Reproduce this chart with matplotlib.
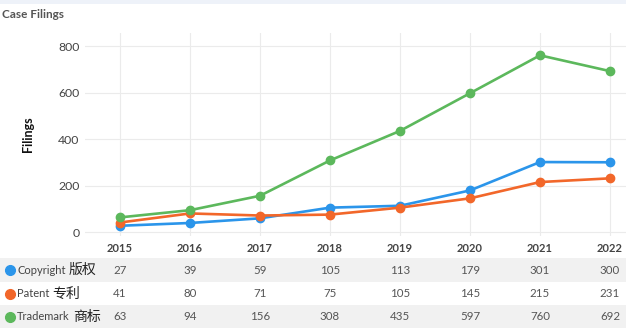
"""
Case Filings: Liniendiagramm mit Datentabelle darunter.
"""
import matplotlib.pyplot as plt
from matplotlib.patches import Rectangle
from matplotlib.transforms import blended_transform_factory

# Daten
YEARS = ["2015", "2016", "2017", "2018", "2019", "2020", "2021", "2022"]
COPYRIGHT = [27, 39, 59, 105, 113, 179, 301, 300]
PATENT = [41, 80, 71, 75, 105, 145, 215, 231]
TRADEMARK = [63, 94, 156, 308, 435, 597, 760, 692]
SERIES_EN = ["Copyright", "Patent", "Trademark"]
SERIES_ZH = ["版权", "专利", "商标"]
Y_TICKS = [0, 200, 400, 600, 800]

COLORS = ["#2b95ea", "#f2672a", "#5cb85c"]
LATIN = "Lato"
CJK = "Noto Sans CJK SC"

plt.rcParams["font.family"] = [LATIN, CJK, "DejaVu Sans"]

W, H = 626, 330
fig = plt.figure(figsize=(W / 100, H / 100), dpi=100)

# Hellblauer Streifen oben
fig.patches.append(Rectangle((0, 1 - 3.5 / H), 1, 3.5 / H, transform=fig.transFigure,
                             facecolor="#eef2f9", edgecolor="none", zorder=-1))

fig.text(2 / W, 1 - 14 / H, "Case Filings", fontsize=8.5, fontweight="bold",
         color="#555555", va="center", ha="left")

# Plotbereich (rechts absichtlich ueber den Rand hinaus, wie im Original)
left, right = 85 / W, 645 / W
bottom, top = 1 - 236 / H, 1 - 33 / H
ax = fig.add_axes([left, bottom, right - left, top - bottom])

x = list(range(len(YEARS)))
for vals, col in zip([COPYRIGHT, PATENT, TRADEMARK], COLORS):
    ax.plot(x, vals, color=col, lw=1.9, marker="o", markersize=6, zorder=3,
            solid_capstyle="round")

ax.set_xlim(-0.5, len(YEARS) - 0.5)
ax.set_ylim(-17, 856)
ax.set_yticks(Y_TICKS)
ax.set_xticks(x)
ax.set_xticklabels(YEARS, fontsize=8, fontweight="bold", color="#444444")
ax.tick_params(axis="y", labelsize=8.8, labelcolor="#444444", length=0, pad=4)
ax.tick_params(axis="x", length=0, pad=5)
ax.grid(True, color="#ebebeb", lw=0.8)
ax.set_axisbelow(True)
for s in ax.spines.values():
    s.set_visible(False)
ax.set_ylabel("Filings", fontsize=9, fontweight="bold", color="#111111")
ax.yaxis.set_label_coords(-(85 - 28) / (645 - 85), 0.5)
ax.yaxis.label.set_va("center")

# Datentabelle
row_centers = [270, 293.5, 316.5]
row_h = 23.5
trans = blended_transform_factory(ax.transData, fig.transFigure)
renderer = fig.canvas.get_renderer()
for i, (vals, col, en, zh) in enumerate(zip([COPYRIGHT, PATENT, TRADEMARK], COLORS,
                                             SERIES_EN, SERIES_ZH)):
    yc = 1 - row_centers[i] / H
    if i % 2 == 0:
        fig.patches.append(Rectangle((0, yc - row_h / 2 / H), 1, row_h / H,
                                     transform=fig.transFigure, facecolor="#f1f1f1",
                                     edgecolor="none", zorder=-1))
    fig.lines.append(plt.Line2D([10 / W], [yc], marker="o", markersize=7,
                                color=col, transform=fig.transFigure))
    t = fig.text(17 / W, yc, en, fontsize=8, color="#444444", va="center",
                 ha="left", family=LATIN)
    bb = t.get_window_extent(renderer)
    fig.text(bb.x1 / W + 3 / W, yc, zh, fontsize=10, color="#222222",
             va="center", ha="left", family=[CJK, "DejaVu Sans"])
    for xi, v in zip(x, vals):
        fig.text(0, 0, str(v), transform=trans, ha="center", va="center",
                 fontsize=8.3, color="#555555").set_position((xi, yc))

fig.savefig("out.png", dpi=100)
